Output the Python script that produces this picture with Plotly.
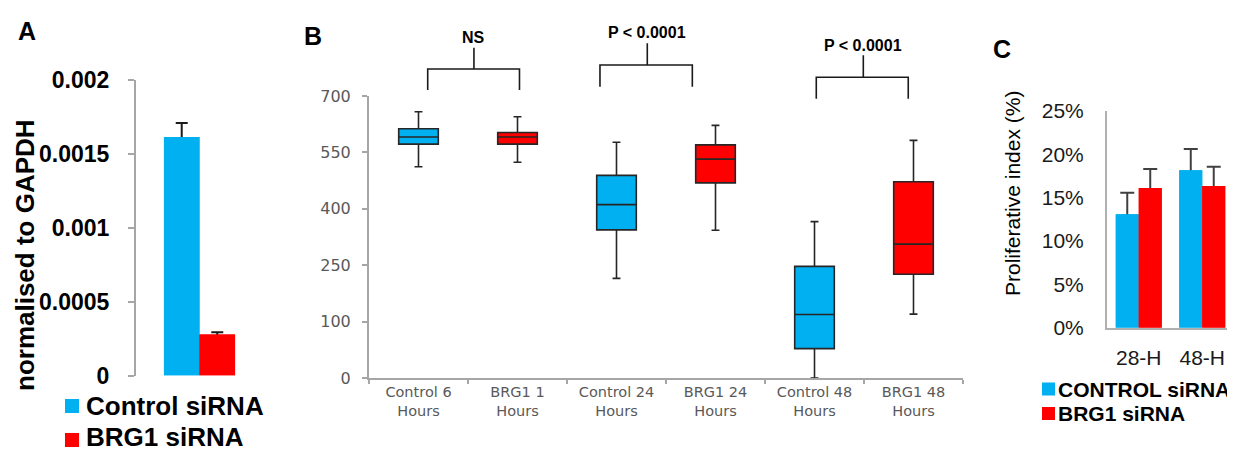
import plotly.graph_objects as go

# ---------------- Data ----------------
# Panel A
a_groups = ["Control siRNA", "BRG1 siRNA"]
a_values = [0.001614, 0.000278]
a_errors = [0.000095, 0.000014]
a_tickvals = [0, 0.0005, 0.001, 0.0015, 0.002]
a_ticktext = ["0", "0.0005", "0.001", "0.0015", "0.002"]
a_ytitle = "normalised to GAPDH"

# Panel B
b_categories = ["Control 6<br>Hours", "BRG1 1<br>Hours", "Control 24<br>Hours",
                "BRG1 24<br>Hours", "Control 48<br>Hours", "BRG1 48<br>Hours"]
b_control_cats = ["Control 6<br>Hours", "Control 24<br>Hours", "Control 48<br>Hours"]
b_brg1_cats = ["BRG1 1<br>Hours", "BRG1 24<br>Hours", "BRG1 48<br>Hours"]
b_control_upper = [658, 577, 366]
b_control_q3 = [613, 489, 247]
b_control_median = [591, 411, 119]
b_control_q1 = [572, 344, 28]
b_control_lower = [512, 215, -50]
b_brg1_upper = [645, 622, 582]
b_brg1_q3 = [603, 570, 472]
b_brg1_median = [591, 532, 306]
b_brg1_q1 = [572, 469, 226]
b_brg1_lower = [524, 343, 120]
b_tickvals = [-50, 100, 250, 400, 550, 700]
b_ticktext = ["0", "100", "250", "400", "550", "700"]
b_sig_labels = ["NS", "P < 0.0001", "P < 0.0001"]

# Panel C
c_categories = ["28-H", "48-H"]
c_groups = ["CONTROL siRNA", "BRG1 siRNA"]
c_control = [0.1308, 0.1816]
c_control_err = [0.0250, 0.0246]
c_brg1 = [0.1612, 0.1635]
c_brg1_err = [0.0219, 0.0223]
c_tickvals = [0, 0.05, 0.10, 0.15, 0.20, 0.25]
c_ytitle = "Proliferative index (%)"

# ---------------- Styles / layout helpers ----------------
W, H = 1235, 452
OFF = 8  # default page body margin offset
FW, FH = W - OFF, H - OFF

BLUE = "#00B0F0"
RED = "#FF0000"
AXIS_GREY = "#A6A6A6"
FONT = "Liberation Sans, Arial, sans-serif"
BFONT = "DejaVu Sans, sans-serif"


def px(x):
    return (x - OFF) / FW


def py(y):
    return 1 - (y - OFF) / FH


fig = go.Figure()


def add_bar_with_err(x, y, err, name, color, width, offset, xa, ya, ecolor, cap):
    # bar carrying the error bars
    fig.add_trace(go.Bar(
        x=x, y=y, name=name, marker=dict(color=color, line=dict(width=0)),
        width=width, offset=offset,
        error_y=dict(type="data", array=err, symmetric=True,
                     color=ecolor, thickness=2, width=cap),
        xaxis=xa, yaxis=ya, showlegend=False))
    # same bar drawn again on top so only the upper half of the error bar shows
    fig.add_trace(go.Bar(
        x=x, y=y, name=name, marker=dict(color=color, line=dict(width=0)),
        width=width, offset=offset, hoverinfo="skip",
        xaxis=xa, yaxis=ya, showlegend=False))


# ---- Panel A bars ----
a_colors = [BLUE, RED]
a_width = 0.28
for i, (name, val, err) in enumerate(zip(a_groups, a_values, a_errors)):
    add_bar_with_err([""], [val], [err], name, a_colors[i], a_width,
                     -a_width + i * a_width, "x", "y", "#1a1a1a", 6)

# ---- Panel B boxes ----
fig.add_trace(go.Box(
    x=b_control_cats, q1=b_control_q1, median=b_control_median, q3=b_control_q3,
    lowerfence=b_control_lower, upperfence=b_control_upper,
    fillcolor=BLUE, line=dict(color="#262626", width=1.6), width=0.4, whiskerwidth=0.2,
    xaxis="x2", yaxis="y2", showlegend=False, name="Control"))
fig.add_trace(go.Box(
    x=b_brg1_cats, q1=b_brg1_q1, median=b_brg1_median, q3=b_brg1_q3,
    lowerfence=b_brg1_lower, upperfence=b_brg1_upper,
    fillcolor=RED, line=dict(color="#262626", width=1.6), width=0.4, whiskerwidth=0.2,
    xaxis="x2", yaxis="y2", showlegend=False, name="BRG1"))

# ---- Panel C bars ----
c_width = 0.362
for i, (name, vals, errs, col) in enumerate(zip(c_groups, [c_control, c_brg1],
                                                [c_control_err, c_brg1_err], [BLUE, RED])):
    add_bar_with_err(c_categories, vals, errs, name, col, c_width,
                     -c_width + i * c_width, "x3", "y3", "#404040", 7)

shapes = []
annotations = []

# Panel letters
for letter, (lx, ly) in zip(["A", "B", "C"], [(27, 31), (313, 36), (1002, 49)]):
    annotations.append(dict(text=letter, x=px(lx), y=py(ly), xref="paper", yref="paper",
                            showarrow=False, xanchor="center", yanchor="middle",
                            font=dict(family=FONT, size=25, color="black", weight="bold")))

# Panel A y title
annotations.append(dict(text=a_ytitle, x=px(25), y=py(255), xref="paper", yref="paper",
                        showarrow=False, textangle=-90, xanchor="center", yanchor="middle",
                        font=dict(family=FONT, size=26, color="black", weight="bold")))
# Panel C y title
annotations.append(dict(text=c_ytitle, x=px(1013), y=py(194), xref="paper", yref="paper",
                        showarrow=False, textangle=-90, xanchor="center", yanchor="middle",
                        font=dict(family=FONT, size=21, color="black")))


# Legends (drawn as colour keys + text)
def legend_item(sq_x0, sq_size, cy, text_x, text_cy, text, color, size):
    shapes.append(dict(type="rect", xref="paper", yref="paper",
                       x0=px(sq_x0), x1=px(sq_x0 + sq_size),
                       y0=py(cy + sq_size / 2), y1=py(cy - sq_size / 2),
                       fillcolor=color, line=dict(width=0)))
    annotations.append(dict(text=text, x=px(text_x), y=py(text_cy), xref="paper", yref="paper",
                            showarrow=False, xanchor="left", yanchor="middle",
                            font=dict(family=FONT, size=size, color="black", weight="bold")))


legend_item(65, 14, 406, 84, 406, a_groups[0], BLUE, 26)
legend_item(65, 14, 440, 84, 437, a_groups[1], RED, 26)
legend_item(1042, 13, 389, 1056, 389, c_groups[0], BLUE, 21)
legend_item(1042, 13, 413.5, 1056, 413.5, c_groups[1], RED, 21)

# Panel B significance brackets (x in category units, y in pixels)
brackets = [
    (0.093, 1.02, 0.56, 69, 90, 47.7, 37),
    (1.833, 2.766, 2.311, 65, 86.7, 43.3, 32.3),
    (4.018, 4.947, 4.493, 77.3, 98.7, 55.3, 45.7),
]
for (xl, xr, xs, yh, yb, yt, ytext), lab in zip(brackets, b_sig_labels):
    path = (f"M {xl} {py(yb)} L {xl} {py(yh)} L {xr} {py(yh)} L {xr} {py(yb)} "
            f"M {xs} {py(yh)} L {xs} {py(yt)}")
    shapes.append(dict(type="path", xref="x2", yref="paper", path=path,
                       line=dict(color="#1a1a1a", width=1.6)))
    annotations.append(dict(text=lab, x=xs, y=py(ytext), xref="x2", yref="paper",
                            showarrow=False, xanchor="center", yanchor="middle",
                            font=dict(family=FONT, size=16, color="black", weight="bold")))

fig.update_layout(
    width=FW, height=FH,
    margin=dict(l=0, r=0, t=0, b=0, autoexpand=False),
    paper_bgcolor="white", plot_bgcolor="white",
    barmode="overlay", boxmode="overlay",
    showlegend=False,
    shapes=shapes, annotations=annotations,
    # Panel A
    xaxis=dict(domain=[px(136), px(263)], showticklabels=False, showline=False,
               showgrid=False, zeroline=False, ticks="", automargin=False),
    yaxis=dict(domain=[py(375.5), py(80)], range=[0, 0.002], showline=True, linecolor=AXIS_GREY,
               linewidth=2, ticks="outside", ticklen=6, tickwidth=2, tickcolor=AXIS_GREY,
               tickvals=a_tickvals, ticktext=a_ticktext, showgrid=False, zeroline=False,
               ticklabelstandoff=14, automargin=False,
               tickfont=dict(family=FONT, size=23, color="black", weight="bold")),
    # Panel B
    xaxis2=dict(domain=[px(369), px(963)], anchor="y2", type="category",
                categoryorder="array", categoryarray=b_categories,
                showline=True, linecolor=AXIS_GREY, linewidth=2, showgrid=False,
                ticks="outside", tickson="boundaries", ticklen=4, tickwidth=1.5,
                tickcolor=AXIS_GREY, range=[-0.5, 5.5], automargin=False,
                tickfont=dict(family=BFONT, size=14.5, color="#595959")),
    yaxis2=dict(domain=[py(378), py(96)], anchor="x2", range=[-50, 700],
                showline=True, linecolor=AXIS_GREY, linewidth=2, showgrid=False,
                zeroline=False, ticks="outside", ticklen=5, tickwidth=1.5, tickcolor=AXIS_GREY,
                tickvals=b_tickvals, ticktext=b_ticktext, ticklabelstandoff=8,
                automargin=False,
                tickfont=dict(family=BFONT, size=16, color="#595959")),
    # Panel C
    xaxis3=dict(domain=[px(1107), px(1234)], anchor="y3", type="category",
                showline=True, linecolor="#B0B0B0", linewidth=2, showgrid=False,
                ticks="", ticklabelstandoff=10, automargin=False,
                tickfont=dict(family=FONT, size=21, color="#1a1a1a")),
    yaxis3=dict(domain=[py(327.7), py(111)], anchor="x3", range=[0, 0.25],
                showline=True, linecolor="#B0B0B0", linewidth=2, showgrid=False,
                zeroline=False, ticks="", tickvals=c_tickvals, tickformat=".0%",
                ticklabelstandoff=17, automargin=False,
                tickfont=dict(family=FONT, size=21, color="#1a1a1a")),
)

fig.write_html("out.html")
